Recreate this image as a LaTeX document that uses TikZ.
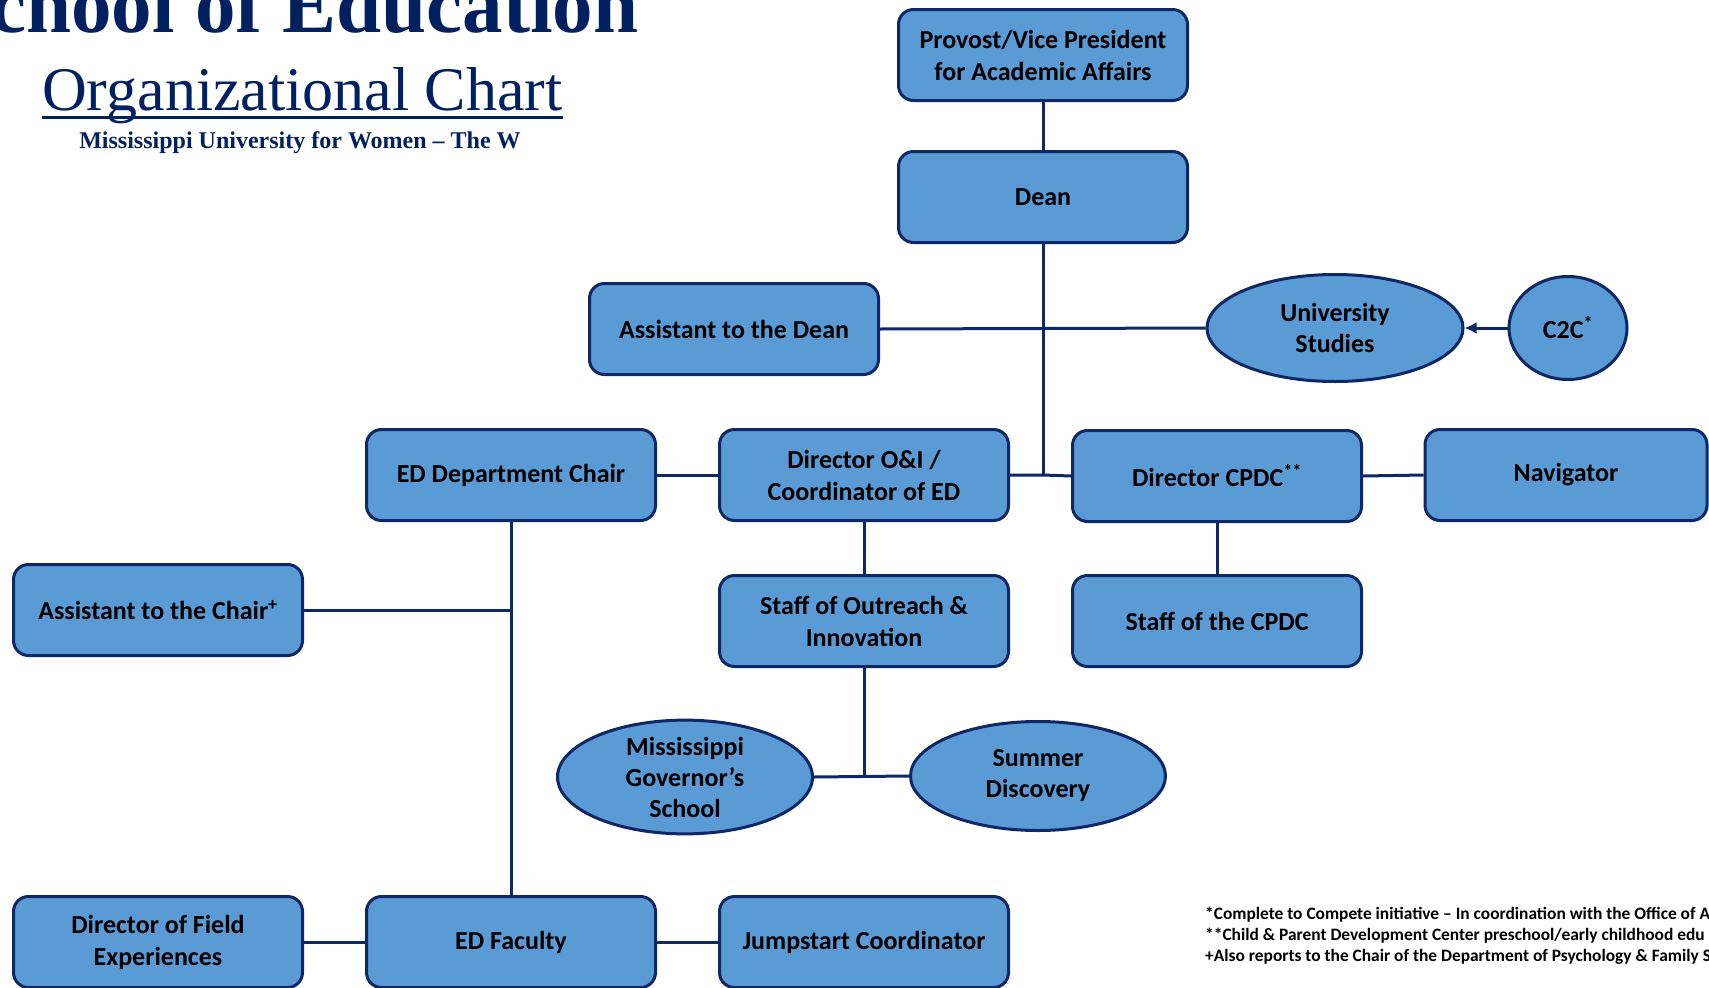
\documentclass[tikz,border=0pt]{standalone}
\usepackage{fontspec}
\setmainfont{Carlito}
\newfontfamily\titleserif{Liberation Serif}
\usetikzlibrary{shapes.geometric,arrows.meta}
\definecolor{navy}{HTML}{0E2766}
\definecolor{titlenavy}{HTML}{002060}
\definecolor{boxblue}{HTML}{5B9BD5}
\tikzset{
  orgbox/.style={draw=navy, fill=boxblue, line width=3pt, rounded corners=15pt,
    minimum width=289pt, minimum height=91pt, align=center, inner sep=4pt,
    font=\bfseries\fontsize{26}{32}\selectfont, text=black},
  orgoval/.style={draw=navy, fill=boxblue, line width=3pt, ellipse, inner sep=0pt,
    align=center, font=\bfseries\fontsize{26}{31}\selectfont, text=black},
  link/.style={draw=navy, line width=3pt},
  footnote/.style={anchor=base west, inner sep=0pt, font=\bfseries\fontsize{17.4}{20}\selectfont, text=black}
}
\begin{document}
\begin{tikzpicture}[x=1pt,y=-1pt]
\clip (0,0) rectangle (1709,988);
\useasboundingbox (0,0) rectangle (1709,988);
\fill[white] (0,0) rectangle (1709,988);

% titles
\node[anchor=base west, inner sep=0pt, text=titlenavy,
  font=\titleserif\bfseries\fontsize{81}{90}\selectfont] (title) at (-55,32) {School of Education};
\node[anchor=base west, inner sep=0pt, text=titlenavy,
  font=\titleserif\fontsize{62}{70}\selectfont] (ctitle) at (42,110) {Organizational Chart};
\draw[draw=titlenavy, line width=3.2pt] ([yshift=-7.5pt]ctitle.base west) -- ([yshift=-7.5pt]ctitle.base east);
\node[anchor=base, inner sep=0pt, text=titlenavy,
  font=\titleserif\bfseries\fontsize{24}{28}\selectfont] (sub) at (300,148) {Mississippi University for Women – The W};

% boxes
\node[orgbox] (prov) at (1043,55) {Provost/Vice President\\for Academic Affairs};
\node[orgbox] (dean) at (1043,197) {Dean};
\node[orgbox] (asstdean) at (734,329) {Assistant to the Dean};
\node[orgoval, minimum width=256pt, minimum height=107pt] (unistud) at (1335,328) {University\\Studies};
\node[orgoval, minimum width=118pt, minimum height=103pt] (c2c) at (1568,328) {C2C\textsuperscript{*}};
\node[orgbox] (edchair) at (511,475) {ED Department Chair};
\node[orgbox] (diroi) at (864,475) {Director O\&I /\\Coordinator of ED};
\node[orgbox] (dircpdc) at (1217,476) {Director CPDC\textsuperscript{**}};
\node[orgbox, minimum width=282pt] (nav) at (1566,475) {Navigator};
\node[orgbox] (staffoi) at (864,621) {Staff of Outreach \&\\Innovation};
\node[orgbox] (staffcpdc) at (1217,621) {Staff of the CPDC};
\node[orgbox] (asstchair) at (158,610) {Assistant to the Chair\textsuperscript{+}};
\node[orgoval, minimum width=255pt, minimum height=102pt] (mgs) at (685,777) {Mississippi\\Governor’s\\School};
\node[orgoval, minimum width=255pt, minimum height=109pt] (summer) at (1038,776) {Summer\\Discovery};
\node[orgbox] (dirfield) at (158,942) {Director of Field\\Experiences};
\node[orgbox] (edfac) at (511,942) {ED Faculty};
\node[orgbox] (jump) at (864,942) {Jumpstart Coordinator};

% junctions
\coordinate (jdean) at (dean.south |- diroi.east);
\coordinate (jchair) at (edchair.south |- asstchair.east);
\coordinate (joi) at (staffoi.south |- mgs.east);

% connectors
\draw[link] (prov.south) -- (dean.north);
\draw[link] (dean.south) -- (jdean);
\draw[link] (diroi.east) -- (jdean) -- (dircpdc.west);
\draw[link] (asstdean.east) -- (unistud.west);
\draw[link, -{Latex[length=12pt,width=12pt]}] (c2c.west) -- (unistud.east);
\draw[link] (edchair.east) -- (diroi.west);
\draw[link] (dircpdc.east) -- (nav.west);
\draw[link] (diroi.south) -- (staffoi.north);
\draw[link] (dircpdc.south) -- (staffcpdc.north);
\draw[link] (edchair.south) -- (edfac.north);
\draw[link] (asstchair.east) -- (jchair);
\draw[link] (staffoi.south) -- (joi);
\draw[link] (mgs.east) -- (summer.west);
\draw[link] (dirfield.east) -- (edfac.west);
\draw[link] (edfac.east) -- (jump.west);

% footnotes
\node[footnote] (fn1) at (1205,919) {*Complete to Compete initiative – In coordination with the Office of A};
\node[footnote] (fn2) at (1205,940) {**Child \& Parent Development Center preschool/early childhood edu};
\node[footnote] (fn3) at (1205,961) {+Also reports to the Chair of the Department of Psychology \& Family S};
\end{tikzpicture}
\end{document}
